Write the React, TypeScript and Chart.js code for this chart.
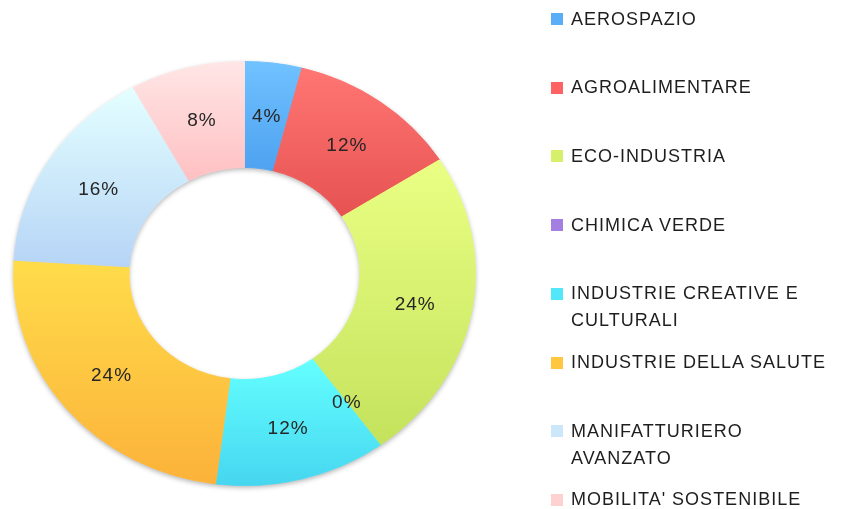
import React, { useEffect, useRef } from "react";
import { Chart, registerables } from "chart.js";

Chart.register(...registerables);

const LABELS = [
  "AEROSPAZIO",
  "AGROALIMENTARE",
  "ECO-INDUSTRIA",
  "CHIMICA VERDE",
  "INDUSTRIE CREATIVE E CULTURALI",
  "INDUSTRIE DELLA SALUTE",
  "MANIFATTURIERO AVANZATO",
  "MOBILITA' SOSTENIBILE",
];
const LEGEND_LINES = [
  ["AEROSPAZIO"],
  ["AGROALIMENTARE"],
  ["ECO-INDUSTRIA"],
  ["CHIMICA VERDE"],
  ["INDUSTRIE CREATIVE E", "CULTURALI"],
  ["INDUSTRIE DELLA SALUTE"],
  ["MANIFATTURIERO", "AVANZATO"],
  ["MOBILITA' SOSTENIBILE"],
];
const VALUES = [4, 12, 24, 0, 12, 24, 16, 8];
const COLORS_TOP = ["#70C2FF", "#FF7672", "#EAFF84", "#B08AE8", "#64FFFF", "#FFDC4A", "#E4FFFF", "#FFE6E6"];
const COLORS_BOTTOM = ["#4EA2F0", "#E65252", "#C4E25C", "#9470D6", "#46D6F0", "#FCB23A", "#B6D4F6", "#FFC0C2"];
const LEGEND_COLORS = ["#5AAEF8", "#FF6262", "#D6F06C", "#A27FE0", "#52E8FA", "#FFC640", "#CCE6FA", "#FFD2D2"];

const SY = 0.918;

const ellipsePlugin = {
  id: "ellipseDoughnut",
  beforeDatasetsDraw(chart: any) {
    const meta = chart.getDatasetMeta(0);
    const arcs = meta.data;
    const ctx = chart.ctx;
    ctx.save();
    if (!arcs.length) return;
    const a0 = arcs[0];
    const cx = a0.x, cy = a0.y, R = a0.outerRadius, r = a0.innerRadius;
    ctx.translate(cx, cy);
    ctx.scale(1, SY);
    ctx.translate(-cx, -cy);
    // soft shadow ring
    ctx.save();
    ctx.shadowColor = "rgba(0,0,0,0.30)";
    ctx.shadowBlur = 5;
    ctx.shadowOffsetY = 2;
    ctx.beginPath();
    ctx.arc(cx, cy, R, 0, Math.PI * 2);
    ctx.arc(cx, cy, r, 0, Math.PI * 2, true);
    ctx.fillStyle = "#ffffff";
    ctx.fill();
    ctx.restore();
    arcs.forEach((arc: any, i: number) => {
      const s = arc.startAngle, e = arc.endAngle;
      let ymin = Infinity, ymax = -Infinity;
      if (e - s > 1e-6) {
        for (let k = 0; k <= 48; k++) {
          const ang = s + ((e - s) * k) / 48;
          for (const rad of [R, r]) {
            const y = cy + rad * Math.sin(ang);
            if (y < ymin) ymin = y;
            if (y > ymax) ymax = y;
          }
        }
      } else {
        ymin = cy - R;
        ymax = cy + R;
      }
      if (ymax - ymin < 1) ymax = ymin + 1;
      const g = ctx.createLinearGradient(0, ymin, 0, ymax);
      g.addColorStop(0, COLORS_TOP[i]);
      g.addColorStop(1, COLORS_BOTTOM[i]);
      arc.options = Object.assign({}, arc.options, { backgroundColor: g, borderColor: g });
    });
  },
  afterDatasetsDraw(chart: any) {
    const ctx = chart.ctx;
    ctx.restore();
    const meta = chart.getDatasetMeta(0);
    const arcs = meta.data;
    const total = VALUES.reduce((a, b) => a + b, 0);
    ctx.save();
    ctx.font = '19px "Liberation Sans"';
    (ctx as any).letterSpacing = "1px";
    ctx.fillStyle = "#262626";
    ctx.textAlign = "center";
    ctx.textBaseline = "middle";
    arcs.forEach((arc: any, i: number) => {
      const mid = (arc.startAngle + arc.endAngle) / 2;
      const rm = (arc.outerRadius + arc.innerRadius) / 2;
      const x = arc.x + rm * Math.cos(mid);
      const y = arc.y + rm * Math.sin(mid) * SY;
      const pct = Math.round((VALUES[i] / total) * 100) + "%";
      ctx.fillText(pct, x + 0.5, y + 1);
    });
    ctx.restore();
  },
};

export default function App() {
  const canvasRef = useRef<HTMLCanvasElement | null>(null);

  useEffect(() => {
    if (!canvasRef.current) return;
    const chart = new Chart(canvasRef.current, {
      type: "doughnut",
      data: {
        labels: LABELS,
        datasets: [
          {
            data: VALUES,
            backgroundColor: LEGEND_COLORS,
            borderWidth: 1,
            clip: false as any,
          },
        ],
      },
      options: {
        responsive: false,
        animation: false,
        devicePixelRatio: 1,
        cutout: "50%",
        layout: { padding: { left: 13, right: 365, top: 42, bottom: 4 } },
        plugins: {
          legend: { display: false },
          tooltip: { enabled: false },
        },
      },
      plugins: [ellipsePlugin],
    });
    return () => chart.destroy();
  }, []);

  const slot = 68.7;
  const lineH = 27;
  return (
    <div style={{ position: "absolute", left: 0, top: 0, width: 841, height: 509, background: "#ffffff", overflow: "hidden" }}>
      <canvas ref={canvasRef} width={841} height={509} style={{ position: "absolute", left: 0, top: 0, width: 841, height: 509 }} />
      {LEGEND_LINES.map((lines, i) => {
        const top = 19 - lineH / 2 + i * slot;
        return (
          <div key={i} style={{ position: "absolute", left: 551, top }}>
            <div
              style={{
                position: "absolute",
                left: 0,
                top: lineH / 2 - 6,
                width: 12,
                height: 12,
                background: LEGEND_COLORS[i],
              }}
            />
            <div
              style={{
                position: "absolute",
                left: 20,
                top: 0,
                whiteSpace: "nowrap",
                fontFamily: '"Liberation Sans", Arial, sans-serif',
                fontSize: 18,
                letterSpacing: "1px",
                lineHeight: lineH + "px",
                color: "#1e1e1e",
              }}
            >
              {lines.map((l, j) => (
                <div key={j}>{l}</div>
              ))}
            </div>
          </div>
        );
      })}
    </div>
  );
}
